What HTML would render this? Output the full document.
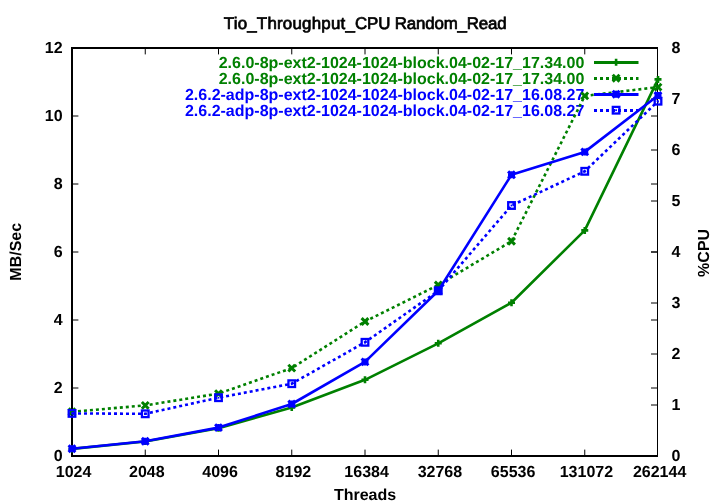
<!DOCTYPE html>
<html><head><meta charset="utf-8"><title>Tio_Throughput_CPU Random_Read</title>
<style>html,body{margin:0;padding:0;background:#fff}svg{display:block;will-change:transform}</style>
</head><body>
<svg width="720" height="504" viewBox="0 0 720 504">
<rect width="720" height="504" fill="#fff"/>
<path d="M145.25 456.0V449.6M145.25 48.0V54.4M218.50 456.0V449.6M218.50 48.0V54.4M291.75 456.0V449.6M291.75 48.0V54.4M365.00 456.0V449.6M365.00 48.0V54.4M438.25 456.0V449.6M438.25 48.0V54.4M511.50 456.0V449.6M511.50 48.0V54.4M584.75 456.0V449.6M584.75 48.0V54.4M72.0 388.00H78.4M658.0 388.00H651.0M72.0 320.00H78.4M658.0 320.00H651.0M72.0 252.00H78.4M658.0 252.00H651.0M72.0 184.00H78.4M658.0 184.00H651.0M72.0 116.00H78.4M658.0 116.00H651.0M658.0 405.00H651.0M658.0 354.00H651.0M658.0 303.00H651.0M658.0 252.00H651.0M658.0 201.00H651.0M658.0 150.00H651.0M658.0 99.00H651.0" stroke="#000" stroke-width="1" fill="none"/>
<path d="M71 47H658V49H73V455H658V457H71Z" fill="#000"/>
<rect x="657" y="47" width="1" height="410" fill="#000"/>
<text x="223.75" y="29" font-family="'Liberation Sans', sans-serif" text-rendering="geometricPrecision" font-size="16.9" stroke="#000" stroke-width="0.7"><tspan letter-spacing="0.22">Tio_Throughput_</tspan><tspan letter-spacing="-0.17">CPU Random_Read</tspan></text>
<text x="62.6" y="461.0" text-anchor="end" font-family="'Liberation Sans', sans-serif" text-rendering="geometricPrecision" font-weight="bold" font-size="16">0</text>
<text x="62.6" y="393.0" text-anchor="end" font-family="'Liberation Sans', sans-serif" text-rendering="geometricPrecision" font-weight="bold" font-size="16">2</text>
<text x="62.6" y="325.0" text-anchor="end" font-family="'Liberation Sans', sans-serif" text-rendering="geometricPrecision" font-weight="bold" font-size="16">4</text>
<text x="62.6" y="257.0" text-anchor="end" font-family="'Liberation Sans', sans-serif" text-rendering="geometricPrecision" font-weight="bold" font-size="16">6</text>
<text x="62.6" y="189.0" text-anchor="end" font-family="'Liberation Sans', sans-serif" text-rendering="geometricPrecision" font-weight="bold" font-size="16">8</text>
<text x="62.6" y="121.0" text-anchor="end" font-family="'Liberation Sans', sans-serif" text-rendering="geometricPrecision" font-weight="bold" font-size="16">10</text>
<text x="62.6" y="53.0" text-anchor="end" font-family="'Liberation Sans', sans-serif" text-rendering="geometricPrecision" font-weight="bold" font-size="16">12</text>
<text x="671.6" y="461.0" font-family="'Liberation Sans', sans-serif" text-rendering="geometricPrecision" font-weight="bold" font-size="16">0</text>
<text x="671.6" y="410.0" font-family="'Liberation Sans', sans-serif" text-rendering="geometricPrecision" font-weight="bold" font-size="16">1</text>
<text x="671.6" y="359.0" font-family="'Liberation Sans', sans-serif" text-rendering="geometricPrecision" font-weight="bold" font-size="16">2</text>
<text x="671.6" y="308.0" font-family="'Liberation Sans', sans-serif" text-rendering="geometricPrecision" font-weight="bold" font-size="16">3</text>
<text x="671.6" y="257.0" font-family="'Liberation Sans', sans-serif" text-rendering="geometricPrecision" font-weight="bold" font-size="16">4</text>
<text x="671.6" y="206.0" font-family="'Liberation Sans', sans-serif" text-rendering="geometricPrecision" font-weight="bold" font-size="16">5</text>
<text x="671.6" y="155.0" font-family="'Liberation Sans', sans-serif" text-rendering="geometricPrecision" font-weight="bold" font-size="16">6</text>
<text x="671.6" y="104.0" font-family="'Liberation Sans', sans-serif" text-rendering="geometricPrecision" font-weight="bold" font-size="16">7</text>
<text x="671.6" y="53.0" font-family="'Liberation Sans', sans-serif" text-rendering="geometricPrecision" font-weight="bold" font-size="16">8</text>
<text x="73.6" y="477" text-anchor="middle" font-family="'Liberation Sans', sans-serif" text-rendering="geometricPrecision" font-weight="bold" font-size="16">1024</text>
<text x="146.8" y="477" text-anchor="middle" font-family="'Liberation Sans', sans-serif" text-rendering="geometricPrecision" font-weight="bold" font-size="16">2048</text>
<text x="220.1" y="477" text-anchor="middle" font-family="'Liberation Sans', sans-serif" text-rendering="geometricPrecision" font-weight="bold" font-size="16">4096</text>
<text x="293.4" y="477" text-anchor="middle" font-family="'Liberation Sans', sans-serif" text-rendering="geometricPrecision" font-weight="bold" font-size="16">8192</text>
<text x="366.6" y="477" text-anchor="middle" font-family="'Liberation Sans', sans-serif" text-rendering="geometricPrecision" font-weight="bold" font-size="16">16384</text>
<text x="439.9" y="477" text-anchor="middle" font-family="'Liberation Sans', sans-serif" text-rendering="geometricPrecision" font-weight="bold" font-size="16">32768</text>
<text x="513.1" y="477" text-anchor="middle" font-family="'Liberation Sans', sans-serif" text-rendering="geometricPrecision" font-weight="bold" font-size="16">65536</text>
<text x="586.4" y="477" text-anchor="middle" font-family="'Liberation Sans', sans-serif" text-rendering="geometricPrecision" font-weight="bold" font-size="16">131072</text>
<text x="659.6" y="477" text-anchor="middle" font-family="'Liberation Sans', sans-serif" text-rendering="geometricPrecision" font-weight="bold" font-size="16">262144</text>
<text transform="translate(21.2,251.8) rotate(-90)" text-anchor="middle" font-family="'Liberation Sans', sans-serif" text-rendering="geometricPrecision" font-weight="bold" font-size="16">MB/Sec</text>
<text transform="translate(709,252.9) rotate(-90)" text-anchor="middle" font-family="'Liberation Sans', sans-serif" text-rendering="geometricPrecision" font-weight="bold" font-size="16">%CPU</text>
<text x="365" y="500" text-anchor="middle" font-family="'Liberation Sans', sans-serif" text-rendering="geometricPrecision" font-weight="bold" font-size="16">Threads</text>
<text x="584.3" y="68.0" text-anchor="end" fill="#008000" font-family="'Liberation Sans', sans-serif" text-rendering="geometricPrecision" font-weight="bold" font-size="16">2.6.0-8p-ext2-1024-1024-block.04-02-17_17.34.00</text>
<text x="584.3" y="84.0" text-anchor="end" fill="#008000" font-family="'Liberation Sans', sans-serif" text-rendering="geometricPrecision" font-weight="bold" font-size="16">2.6.0-8p-ext2-1024-1024-block.04-02-17_17.34.00</text>
<text x="584.3" y="100.0" text-anchor="end" fill="#0000ff" font-family="'Liberation Sans', sans-serif" text-rendering="geometricPrecision" font-weight="bold" font-size="16">2.6.2-adp-8p-ext2-1024-1024-block.04-02-17_16.08.27</text>
<text x="584.3" y="116.0" text-anchor="end" fill="#0000ff" font-family="'Liberation Sans', sans-serif" text-rendering="geometricPrecision" font-weight="bold" font-size="16">2.6.2-adp-8p-ext2-1024-1024-block.04-02-17_16.08.27</text>
<line x1="594" y1="62.5" x2="638.5" y2="62.5" stroke="#008000" stroke-width="2.8"/>
<path d="M612.60 62.20H619.60M616.10 58.70V65.70" stroke="#008000" stroke-width="2.6" fill="none"/>
<polyline points="72.00,448.90 145.25,441.50 218.50,428.20 291.75,407.50 365.00,379.80 438.25,343.30 511.50,302.70 584.75,230.40 658.00,79.40" fill="none" stroke="#008000" stroke-width="2.6" stroke-linejoin="round"/>
<path d="M68.50 448.90H75.50M72.00 445.40V452.40" stroke="#008000" stroke-width="2.6" fill="none"/>
<path d="M141.75 441.50H148.75M145.25 438.00V445.00" stroke="#008000" stroke-width="2.6" fill="none"/>
<path d="M215.00 428.20H222.00M218.50 424.70V431.70" stroke="#008000" stroke-width="2.6" fill="none"/>
<path d="M288.25 407.50H295.25M291.75 404.00V411.00" stroke="#008000" stroke-width="2.6" fill="none"/>
<path d="M361.50 379.80H368.50M365.00 376.30V383.30" stroke="#008000" stroke-width="2.6" fill="none"/>
<path d="M434.75 343.30H441.75M438.25 339.80V346.80" stroke="#008000" stroke-width="2.6" fill="none"/>
<path d="M508.00 302.70H515.00M511.50 299.20V306.20" stroke="#008000" stroke-width="2.6" fill="none"/>
<path d="M581.25 230.40H588.25M584.75 226.90V233.90" stroke="#008000" stroke-width="2.6" fill="none"/>
<path d="M654.50 79.40H661.50M658.00 75.90V82.90" stroke="#008000" stroke-width="2.6" fill="none"/>
<line x1="594" y1="78.5" x2="638.5" y2="78.5" stroke="#008000" stroke-width="2.8" stroke-dasharray="3 3"/>
<path d="M612.70 74.80L619.50 81.60M612.70 81.60L619.50 74.80" stroke="#008000" stroke-width="3" fill="none"/>
<polyline points="72.00,411.80 145.25,405.40 218.50,393.60 291.75,368.10 365.00,321.50 438.25,285.00 511.50,241.25 584.75,95.90 658.00,87.10" fill="none" stroke="#008000" stroke-width="2.6" stroke-linejoin="round" stroke-dasharray="3 3"/>
<path d="M68.60 408.40L75.40 415.20M68.60 415.20L75.40 408.40" stroke="#008000" stroke-width="3" fill="none"/>
<path d="M141.85 402.00L148.65 408.80M141.85 408.80L148.65 402.00" stroke="#008000" stroke-width="3" fill="none"/>
<path d="M215.10 390.20L221.90 397.00M215.10 397.00L221.90 390.20" stroke="#008000" stroke-width="3" fill="none"/>
<path d="M288.35 364.70L295.15 371.50M288.35 371.50L295.15 364.70" stroke="#008000" stroke-width="3" fill="none"/>
<path d="M361.60 318.10L368.40 324.90M361.60 324.90L368.40 318.10" stroke="#008000" stroke-width="3" fill="none"/>
<path d="M434.85 281.60L441.65 288.40M434.85 288.40L441.65 281.60" stroke="#008000" stroke-width="3" fill="none"/>
<path d="M508.10 237.85L514.90 244.65M508.10 244.65L514.90 237.85" stroke="#008000" stroke-width="3" fill="none"/>
<path d="M581.35 92.50L588.15 99.30M581.35 99.30L588.15 92.50" stroke="#008000" stroke-width="3" fill="none"/>
<path d="M654.60 83.70L661.40 90.50M654.60 90.50L661.40 83.70" stroke="#008000" stroke-width="3" fill="none"/>
<line x1="594" y1="94.5" x2="638.5" y2="94.5" stroke="#0000ff" stroke-width="2.8"/>
<path d="M612.60 94.20H619.60M616.10 90.70V97.70" stroke="#0000ff" stroke-width="2.6" fill="none"/><path d="M612.70 90.80L619.50 97.60M612.70 97.60L619.50 90.80" stroke="#0000ff" stroke-width="3" fill="none"/>
<polyline points="72.00,448.70 145.25,441.30 218.50,427.60 291.75,404.00 365.00,361.90 438.25,290.80 511.50,174.80 584.75,151.90 658.00,95.50" fill="none" stroke="#0000ff" stroke-width="2.6" stroke-linejoin="round"/>
<path d="M68.50 448.70H75.50M72.00 445.20V452.20" stroke="#0000ff" stroke-width="2.6" fill="none"/><path d="M68.60 445.30L75.40 452.10M68.60 452.10L75.40 445.30" stroke="#0000ff" stroke-width="3" fill="none"/>
<path d="M141.75 441.30H148.75M145.25 437.80V444.80" stroke="#0000ff" stroke-width="2.6" fill="none"/><path d="M141.85 437.90L148.65 444.70M141.85 444.70L148.65 437.90" stroke="#0000ff" stroke-width="3" fill="none"/>
<path d="M215.00 427.60H222.00M218.50 424.10V431.10" stroke="#0000ff" stroke-width="2.6" fill="none"/><path d="M215.10 424.20L221.90 431.00M215.10 431.00L221.90 424.20" stroke="#0000ff" stroke-width="3" fill="none"/>
<path d="M288.25 404.00H295.25M291.75 400.50V407.50" stroke="#0000ff" stroke-width="2.6" fill="none"/><path d="M288.35 400.60L295.15 407.40M288.35 407.40L295.15 400.60" stroke="#0000ff" stroke-width="3" fill="none"/>
<path d="M361.50 361.90H368.50M365.00 358.40V365.40" stroke="#0000ff" stroke-width="2.6" fill="none"/><path d="M361.60 358.50L368.40 365.30M361.60 365.30L368.40 358.50" stroke="#0000ff" stroke-width="3" fill="none"/>
<path d="M434.75 290.80H441.75M438.25 287.30V294.30" stroke="#0000ff" stroke-width="2.6" fill="none"/><path d="M434.85 287.40L441.65 294.20M434.85 294.20L441.65 287.40" stroke="#0000ff" stroke-width="3" fill="none"/>
<path d="M508.00 174.80H515.00M511.50 171.30V178.30" stroke="#0000ff" stroke-width="2.6" fill="none"/><path d="M508.10 171.40L514.90 178.20M508.10 178.20L514.90 171.40" stroke="#0000ff" stroke-width="3" fill="none"/>
<path d="M581.25 151.90H588.25M584.75 148.40V155.40" stroke="#0000ff" stroke-width="2.6" fill="none"/><path d="M581.35 148.50L588.15 155.30M581.35 155.30L588.15 148.50" stroke="#0000ff" stroke-width="3" fill="none"/>
<path d="M654.50 95.50H661.50M658.00 92.00V99.00" stroke="#0000ff" stroke-width="2.6" fill="none"/><path d="M654.60 92.10L661.40 98.90M654.60 98.90L661.40 92.10" stroke="#0000ff" stroke-width="3" fill="none"/>
<line x1="594" y1="110.5" x2="638.5" y2="110.5" stroke="#0000ff" stroke-width="2.8" stroke-dasharray="3 3"/>
<rect x="612.80" y="106.90" width="6.6" height="6.6" stroke="#0000ff" stroke-width="2.3" fill="none"/><rect x="615.20" y="109.30" width="1.8" height="1.8" fill="#0000ff"/>
<polyline points="72.00,413.40 145.25,413.80 218.50,397.70 291.75,383.70 365.00,342.30 438.25,290.80 511.50,205.50 584.75,171.30 658.00,101.20" fill="none" stroke="#0000ff" stroke-width="2.6" stroke-linejoin="round" stroke-dasharray="3 3"/>
<rect x="68.70" y="410.10" width="6.6" height="6.6" stroke="#0000ff" stroke-width="2.3" fill="none"/><rect x="71.10" y="412.50" width="1.8" height="1.8" fill="#0000ff"/>
<rect x="141.95" y="410.50" width="6.6" height="6.6" stroke="#0000ff" stroke-width="2.3" fill="none"/><rect x="144.35" y="412.90" width="1.8" height="1.8" fill="#0000ff"/>
<rect x="215.20" y="394.40" width="6.6" height="6.6" stroke="#0000ff" stroke-width="2.3" fill="none"/><rect x="217.60" y="396.80" width="1.8" height="1.8" fill="#0000ff"/>
<rect x="288.45" y="380.40" width="6.6" height="6.6" stroke="#0000ff" stroke-width="2.3" fill="none"/><rect x="290.85" y="382.80" width="1.8" height="1.8" fill="#0000ff"/>
<rect x="361.70" y="339.00" width="6.6" height="6.6" stroke="#0000ff" stroke-width="2.3" fill="none"/><rect x="364.10" y="341.40" width="1.8" height="1.8" fill="#0000ff"/>
<rect x="434.95" y="287.50" width="6.6" height="6.6" stroke="#0000ff" stroke-width="2.3" fill="none"/><rect x="437.35" y="289.90" width="1.8" height="1.8" fill="#0000ff"/>
<rect x="508.20" y="202.20" width="6.6" height="6.6" stroke="#0000ff" stroke-width="2.3" fill="none"/><rect x="510.60" y="204.60" width="1.8" height="1.8" fill="#0000ff"/>
<rect x="581.45" y="168.00" width="6.6" height="6.6" stroke="#0000ff" stroke-width="2.3" fill="none"/><rect x="583.85" y="170.40" width="1.8" height="1.8" fill="#0000ff"/>
<rect x="654.70" y="97.90" width="6.6" height="6.6" stroke="#0000ff" stroke-width="2.3" fill="none"/><rect x="657.10" y="100.30" width="1.8" height="1.8" fill="#0000ff"/>
</svg>
</body></html>
